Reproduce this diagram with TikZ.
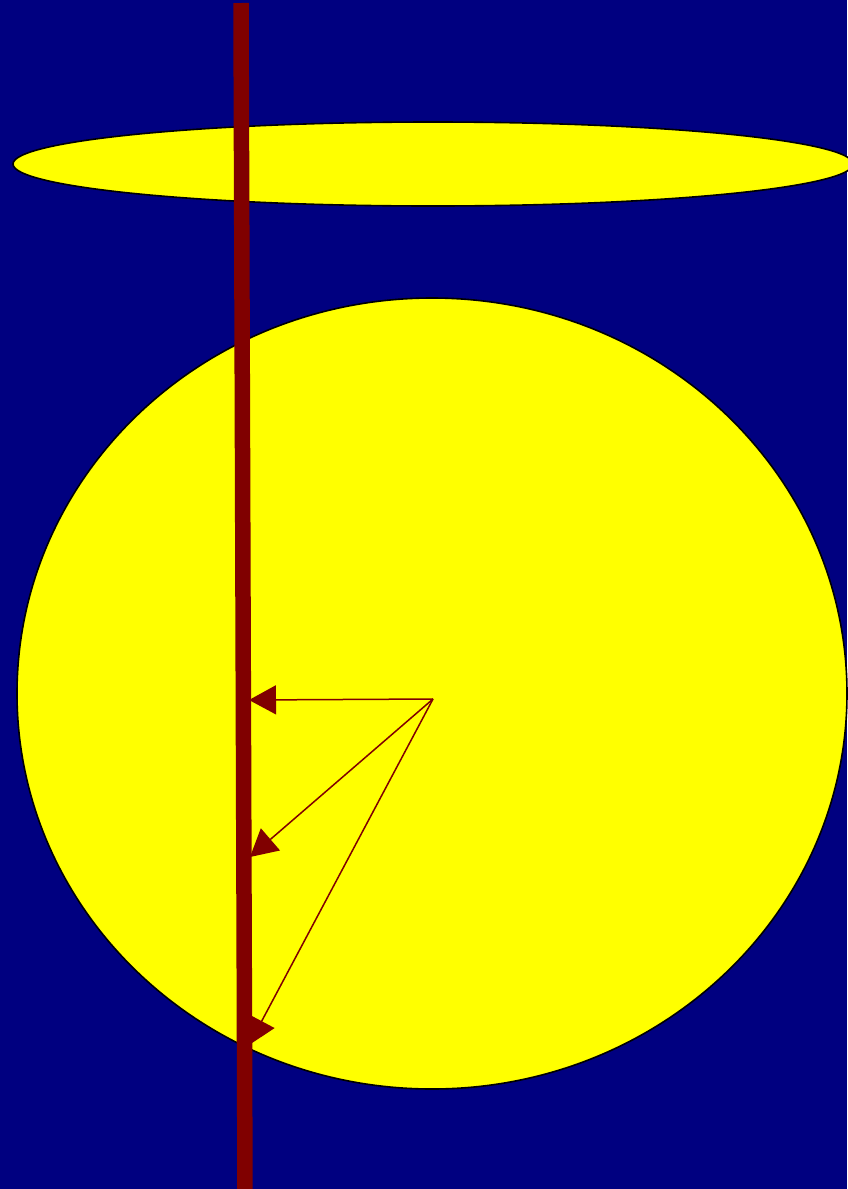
\documentclass[tikz,border=0pt]{standalone}
\usetikzlibrary{arrows.meta}
\definecolor{bgnavy}{HTML}{000080}
\definecolor{sunyellow}{HTML}{FFFF00}
\definecolor{rodred}{HTML}{800000}
\tikzset{
  yellowshape/.style={fill=sunyellow, draw=black, line width=1.6pt},
  rod/.style={draw=rodred, line width=15.5pt},
  ray/.style={draw=rodred, line width=1.5pt, -{Triangle[length=27pt,width=29pt]}}
}
\begin{document}
\begin{tikzpicture}[x=1pt,y=-1pt]
\useasboundingbox (0,0) rectangle (847,1189);
\fill[bgnavy] (0,0) rectangle (847,1189);
\path[yellowshape] (433,164) ellipse [x radius=420, y radius=42];
\path[yellowshape] (432,693.5) ellipse [x radius=415, y radius=395.5];
\coordinate (rodtop) at (241,3);
\coordinate (rodbot) at (245,1192);
\draw[rod] (rodtop) -- (rodbot);
\coordinate (c) at (433,699);
\coordinate (t1) at (249,700);
\coordinate (t2) at (250,857);
\coordinate (t3) at (249,1045);
\draw[ray] (c) -- (t1);
\draw[ray] (c) -- (t2);
\draw[ray] (c) -- (t3);
\end{tikzpicture}
\end{document}
